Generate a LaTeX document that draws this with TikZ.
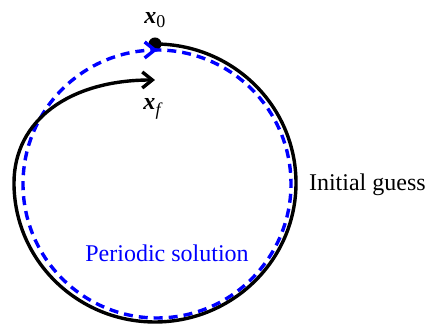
\documentclass[tikz,border=0pt]{standalone}
\usepackage{fontspec}
\setmainfont{Liberation Serif}
\usetikzlibrary{positioning,arrows.meta,decorations.markings}

\newcommand{\vecx}{{\bfseries\itshape x}}

\begin{document}
\begin{tikzpicture}[x=0.5pt,y=0.5pt,>={Straight Barb[length=5pt,width=8pt]},font=\fontsize{12}{14}\selectfont]
    \tikzset{
      guess/.style={draw=black, line width=1.7pt},
      periodic/.style={draw=blue, line width=1.7pt, dash pattern=on 4.5pt off 3pt},
      dot/.style={circle, fill=black, inner sep=0pt, minimum size=6.5pt}
    }
    \useasboundingbox (0,0) rectangle (425,324);
    % Points
    \node[dot] (x0) at (155,280) {};
    \coordinate (xf) at (155,244);
    \node (x0lab) at (155,304) {\vecx\raisebox{-0.4ex}{\fontsize{9}{10}\selectfont 0}};
    \node (xflab) at (152,215) {\vecx\raisebox{-0.6ex}{\fontsize{9}{10}\selectfont\itshape f}};

    % Periodic solution (dashed circle)
    \coordinate (pc) at (157,140);
    \draw[periodic, postaction={decorate}, decoration={markings,
        mark=at position 0.006 with {\draw[solid,line width=1.7pt,blue] (-3pt,0) -- (0,0); \arrow[blue,line width=1.7pt]{>}}}]
      (pc) ++(92:134) arc[start angle=92, end angle=-268, radius=134];

    % Initial guess
    \draw[guess,->] (x0.center) arc[start angle=90, end angle=-180, x radius=141, y radius=139]
      .. controls (14,204) and (70,244) .. (xf);

    % Labels
    \node[anchor=west] (guesslab) at (302,139) {Initial guess};
    \node[text=blue] (perlab) at (167,71) {Periodic solution};
  \end{tikzpicture}
\end{document}
